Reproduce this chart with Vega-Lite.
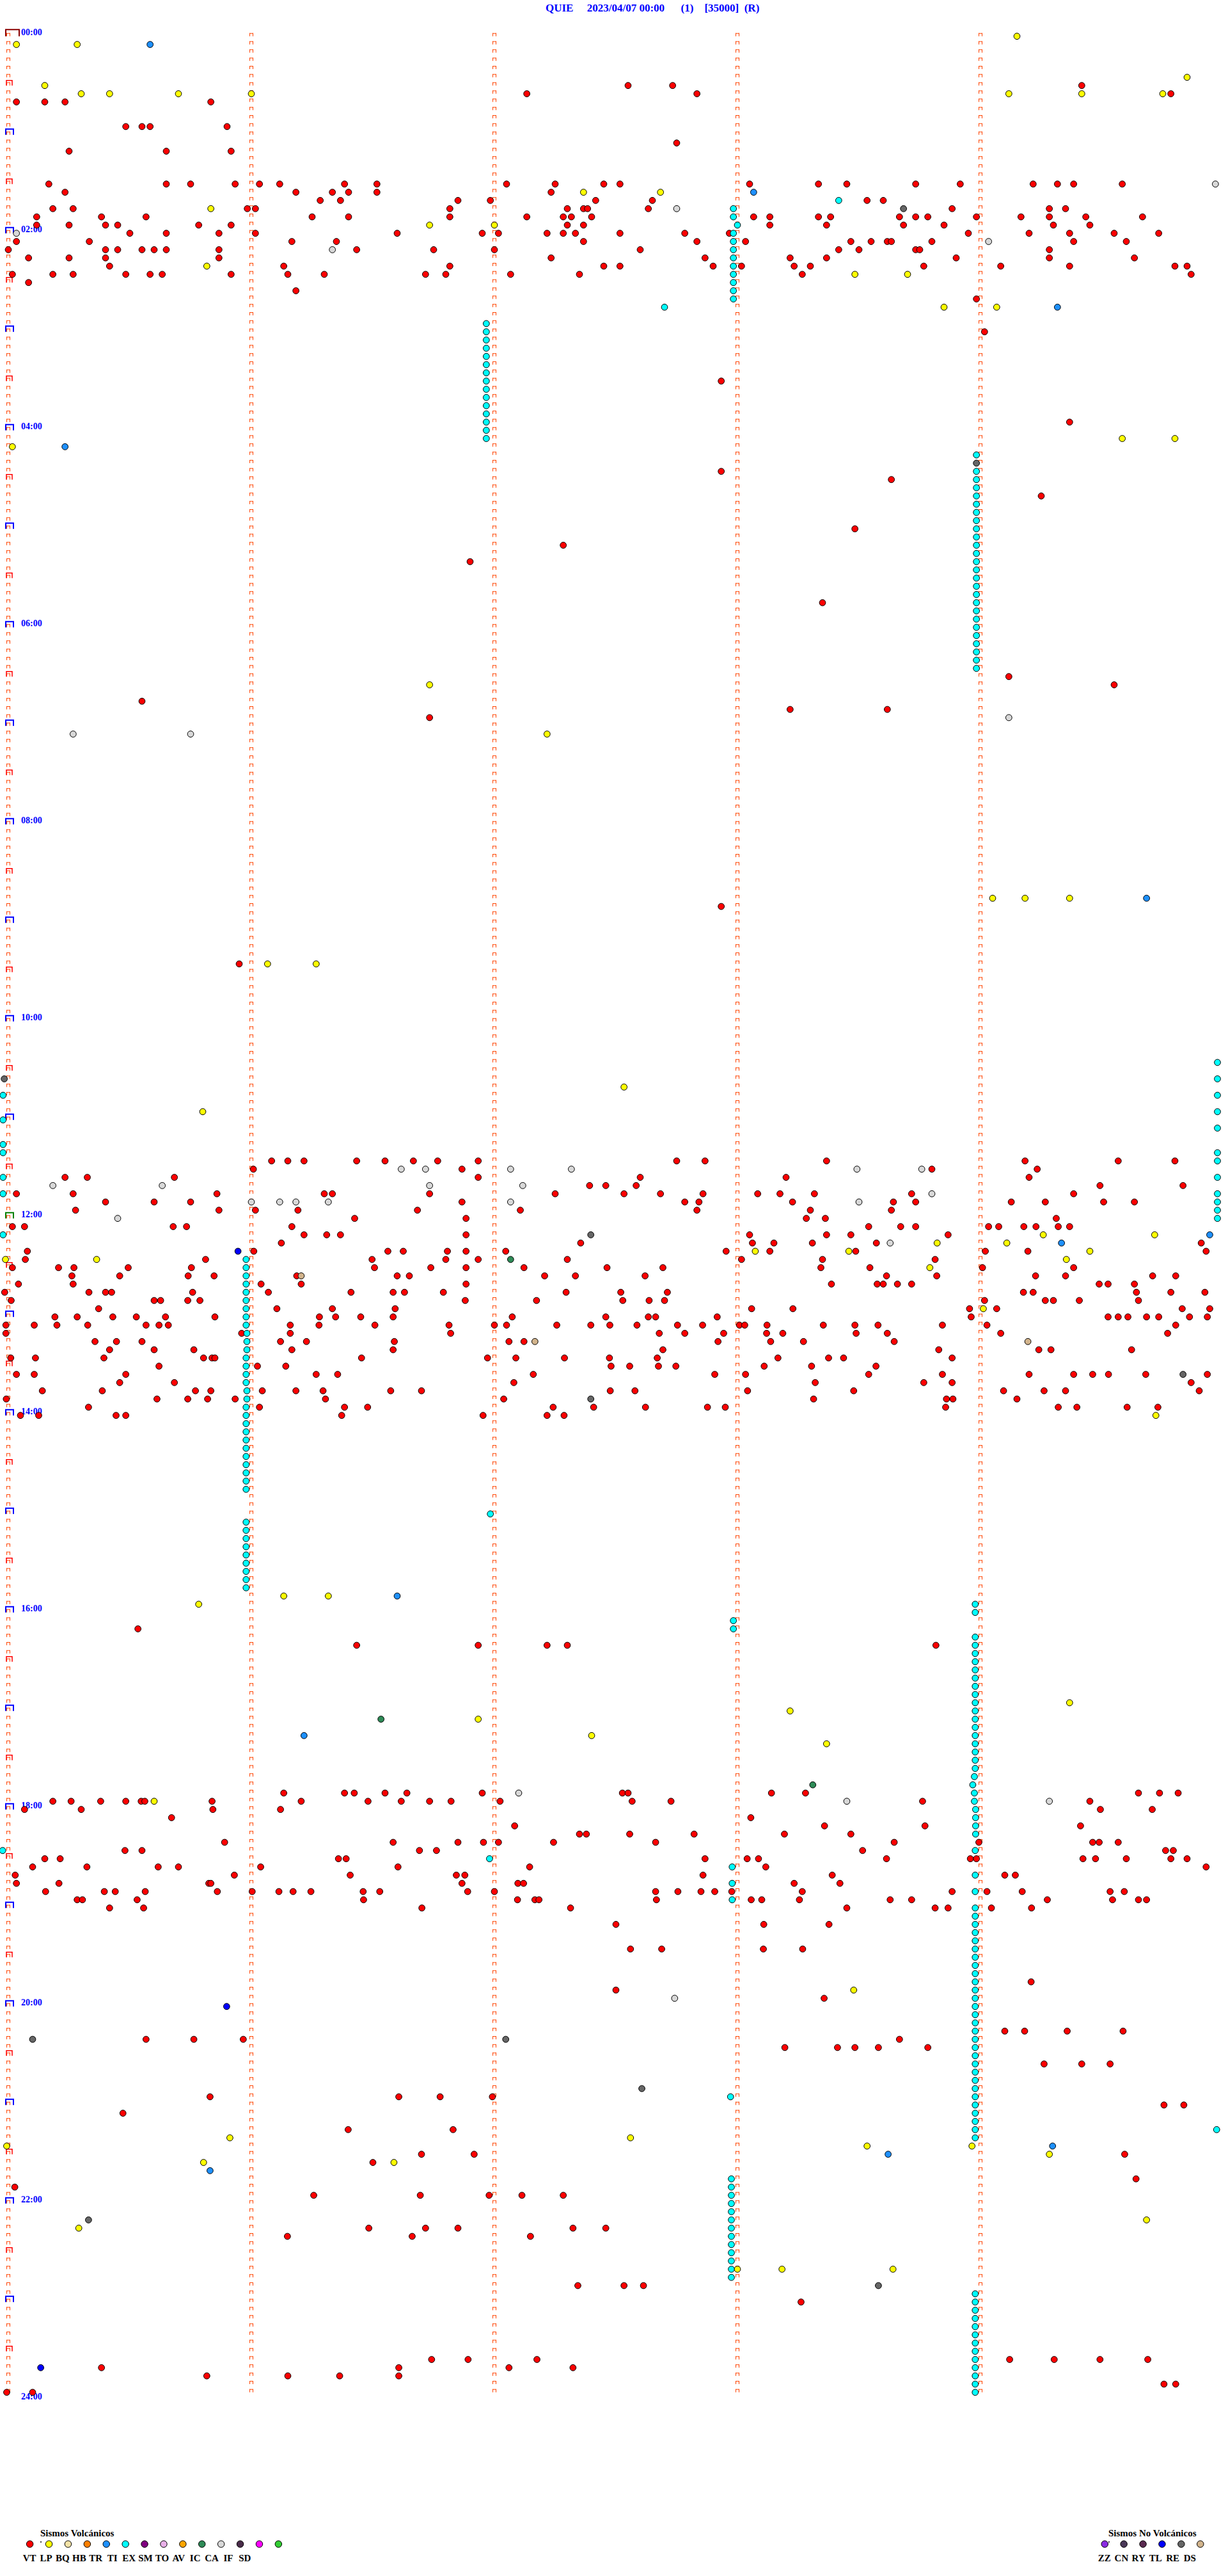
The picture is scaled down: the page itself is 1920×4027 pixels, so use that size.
{
"$schema": "https://vega.github.io/schema/vega-lite/v6.json",
"width": 1900, "height": 3696, "autosize": "none",
"padding": {"left": 13, "top": 56.7, "right": 7, "bottom": 274.3},
"background": "white",
"title": {"text": "QUIE\u00a0\u00a0\u00a0\u00a0\u00a02023/04/07 00:00\u00a0\u00a0\u00a0\u00a0\u00a0\u00a0(1)\u00a0\u00a0\u00a0\u00a0[35000]\u00a0\u00a0(R)", "anchor": "start", "frame": "group", "dx": 840, "offset": 20, "font": "Liberation Serif", "fontSize": 17, "fontWeight": "bold", "color": "#0000FF"},
"config": {"view": {"stroke": null}},
"datasets": {
"cols": [{"s":0},{"s":60},{"s":120},{"s":180},{"s":240}],
"day": [{"r":0}],
"noon": [{"r":144}],
"hour": [{"r":12},{"r":24},{"r":36},{"r":48},{"r":60},{"r":72},{"r":84},{"r":96},{"r":108},{"r":120},{"r":132},{"r":156},{"r":168},{"r":180},{"r":192},{"r":204},{"r":216},{"r":228},{"r":240},{"r":252},{"r":264},{"r":276}],
"half": [{"r":6},{"r":18},{"r":30},{"r":42},{"r":54},{"r":66},{"r":78},{"r":90},{"r":102},{"r":114},{"r":126},{"r":138},{"r":150},{"r":162},{"r":174},{"r":186},{"r":198},{"r":210},{"r":222},{"r":234},{"r":246},{"r":258},{"r":270},{"r":282}],
"hl": [{"r":0,"lab":"00:00"},{"r":24,"lab":"02:00"},{"r":48,"lab":"04:00"},{"r":72,"lab":"06:00"},{"r":96,"lab":"08:00"},{"r":120,"lab":"10:00"},{"r":144,"lab":"12:00"},{"r":168,"lab":"14:00"},{"r":192,"lab":"16:00"},{"r":216,"lab":"18:00"},{"r":240,"lab":"20:00"},{"r":264,"lab":"22:00"},{"r":288,"lab":"24:00"}],
"nov": [{"r":21,"s":221,"t":"RE"},{"r":52,"s":239,"t":"RE"},{"r":127,"s":-1,"t":"RE"},{"r":146,"s":143.8,"t":"RE"},{"r":163,"s":290,"t":"RE"},{"r":166,"s":143.8,"t":"RE"},{"r":148,"s":56.7,"t":"TL"},{"r":151,"s":72.3,"t":"DS"},{"r":159,"s":130,"t":"DS"},{"r":159,"s":251.7,"t":"DS"},{"r":244,"s":6,"t":"RE"},{"r":244,"s":122.8,"t":"RE"},{"r":250,"s":156.4,"t":"RE"},{"r":266,"s":19.8,"t":"RE"},{"r":274,"s":214.8,"t":"RE"},{"r":240,"s":53.9,"t":"TL"},{"r":284,"s":8,"t":"TL"}],
"vol": [
{"r":0,"s":249,"t":"LP"},{"r":1,"s":2,"t":"LP"},{"r":1,"s":17,"t":"LP"},{"r":1,"s":35,"t":"TR"},{"r":5,"s":291,"t":"LP"},
{"r":6,"s":9,"t":"LP"},{"r":6,"s":153,"t":"VT"},{"r":6,"s":164,"t":"VT"},{"r":6,"s":265,"t":"VT"},
{"r":7,"s":18,"t":"LP"},{"r":7,"s":25,"t":"LP"},{"r":7,"s":42,"t":"LP"},{"r":7,"s":60,"t":"LP"},{"r":7,"s":128,"t":"VT"},{"r":7,"s":170,"t":"VT"},{"r":7,"s":247,"t":"LP"},{"r":7,"s":265,"t":"LP"},{"r":7,"s":285,"t":"LP"},{"r":7,"s":287,"t":"VT"},
{"r":8,"s":2,"t":"VT"},{"r":8,"s":9,"t":"VT"},{"r":8,"s":14,"t":"VT"},{"r":8,"s":50,"t":"VT"},
{"r":11,"s":29,"t":"VT"},{"r":11,"s":33,"t":"VT"},{"r":11,"s":35,"t":"VT"},{"r":11,"s":54,"t":"VT"},
{"r":13,"s":165,"t":"VT"},{"r":14,"s":15,"t":"VT"},{"r":14,"s":39,"t":"VT"},{"r":14,"s":55,"t":"VT"},
{"r":18,"s":10,"t":"VT"},{"r":18,"s":39,"t":"VT"},{"r":18,"s":45,"t":"VT"},{"r":18,"s":56,"t":"VT"},{"r":18,"s":62,"t":"VT"},{"r":18,"s":67,"t":"VT"},{"r":18,"s":83,"t":"VT"},{"r":18,"s":91,"t":"VT"},{"r":18,"s":123,"t":"VT"},{"r":18,"s":135,"t":"VT"},{"r":18,"s":147,"t":"VT"},{"r":18,"s":151,"t":"VT"},{"r":18,"s":183,"t":"VT"},{"r":18,"s":200,"t":"VT"},{"r":18,"s":207,"t":"VT"},{"r":18,"s":224,"t":"VT"},{"r":18,"s":235,"t":"VT"},{"r":18,"s":253,"t":"VT"},{"r":18,"s":259,"t":"VT"},{"r":18,"s":263,"t":"VT"},{"r":18,"s":275,"t":"VT"},{"r":18,"s":298,"t":"IC"},
{"r":19,"s":14,"t":"VT"},{"r":19,"s":71,"t":"VT"},{"r":19,"s":80,"t":"VT"},{"r":19,"s":84,"t":"VT"},{"r":19,"s":91,"t":"VT"},{"r":19,"s":134,"t":"VT"},{"r":19,"s":142,"t":"LP"},{"r":19,"s":161,"t":"LP"},{"r":19,"s":184,"t":"TR"},
{"r":20,"s":77,"t":"VT"},{"r":20,"s":82,"t":"VT"},{"r":20,"s":111,"t":"VT"},{"r":20,"s":119,"t":"VT"},{"r":20,"s":145,"t":"VT"},{"r":20,"s":159,"t":"VT"},{"r":20,"s":212,"t":"VT"},{"r":20,"s":216,"t":"VT"},{"r":20,"s":205,"t":"TI"},
{"r":21,"s":11,"t":"VT"},{"r":21,"s":16,"t":"VT"},{"r":21,"s":59,"t":"VT"},{"r":21,"s":61,"t":"VT"},{"r":21,"s":109,"t":"VT"},{"r":21,"s":138,"t":"VT"},{"r":21,"s":142,"t":"VT"},{"r":21,"s":143,"t":"VT"},{"r":21,"s":158,"t":"VT"},{"r":21,"s":233,"t":"VT"},{"r":21,"s":257,"t":"VT"},{"r":21,"s":261,"t":"VT"},{"r":21,"s":50,"t":"LP"},{"r":21,"s":165,"t":"IC"},
{"r":22,"s":7,"t":"VT"},{"r":22,"s":23,"t":"VT"},{"r":22,"s":34,"t":"VT"},{"r":22,"s":75,"t":"VT"},{"r":22,"s":84,"t":"VT"},{"r":22,"s":109,"t":"VT"},{"r":22,"s":128,"t":"VT"},{"r":22,"s":137,"t":"VT"},{"r":22,"s":139,"t":"VT"},{"r":22,"s":144,"t":"VT"},{"r":22,"s":184,"t":"VT"},{"r":22,"s":188,"t":"VT"},{"r":22,"s":200,"t":"VT"},{"r":22,"s":203,"t":"VT"},{"r":22,"s":220,"t":"VT"},{"r":22,"s":224,"t":"VT"},{"r":22,"s":227,"t":"VT"},{"r":22,"s":239,"t":"VT"},{"r":22,"s":250,"t":"VT"},{"r":22,"s":257,"t":"VT"},{"r":22,"s":266,"t":"VT"},{"r":22,"s":280,"t":"VT"},
{"r":23,"s":7,"t":"VT"},{"r":23,"s":15,"t":"VT"},{"r":23,"s":24,"t":"VT"},{"r":23,"s":27,"t":"VT"},{"r":23,"s":47,"t":"VT"},{"r":23,"s":55,"t":"VT"},{"r":23,"s":138,"t":"VT"},{"r":23,"s":142,"t":"VT"},{"r":23,"s":188,"t":"VT"},{"r":23,"s":202,"t":"VT"},{"r":23,"s":221,"t":"VT"},{"r":23,"s":231,"t":"VT"},{"r":23,"s":258,"t":"VT"},{"r":23,"s":267,"t":"VT"},{"r":23,"s":104,"t":"LP"},{"r":23,"s":120,"t":"LP"},
{"r":24,"s":2,"t":"IC"},{"r":24,"s":30,"t":"VT"},{"r":24,"s":39,"t":"VT"},{"r":24,"s":52,"t":"VT"},{"r":24,"s":61,"t":"VT"},{"r":24,"s":96,"t":"VT"},{"r":24,"s":117,"t":"VT"},{"r":24,"s":121,"t":"VT"},{"r":24,"s":133,"t":"VT"},{"r":24,"s":137,"t":"VT"},{"r":24,"s":140,"t":"VT"},{"r":24,"s":151,"t":"VT"},{"r":24,"s":167,"t":"VT"},{"r":24,"s":178,"t":"VT"},{"r":24,"s":237,"t":"VT"},{"r":24,"s":252,"t":"VT"},{"r":24,"s":262,"t":"VT"},{"r":24,"s":273,"t":"VT"},{"r":24,"s":284,"t":"VT"},
{"r":25,"s":2,"t":"VT"},{"r":25,"s":20,"t":"VT"},{"r":25,"s":70,"t":"VT"},{"r":25,"s":81,"t":"VT"},{"r":25,"s":142,"t":"VT"},{"r":25,"s":170,"t":"VT"},{"r":25,"s":182,"t":"VT"},{"r":25,"s":208,"t":"VT"},{"r":25,"s":213,"t":"VT"},{"r":25,"s":217,"t":"VT"},{"r":25,"s":218,"t":"VT"},{"r":25,"s":228,"t":"VT"},{"r":25,"s":263,"t":"VT"},{"r":25,"s":276,"t":"VT"},{"r":25,"s":242,"t":"IC"},
{"r":26,"s":0,"t":"VT"},{"r":26,"s":24,"t":"VT"},{"r":26,"s":27,"t":"VT"},{"r":26,"s":33,"t":"VT"},{"r":26,"s":36,"t":"VT"},{"r":26,"s":39,"t":"VT"},{"r":26,"s":52,"t":"VT"},{"r":26,"s":86,"t":"VT"},{"r":26,"s":105,"t":"VT"},{"r":26,"s":120,"t":"VT"},{"r":26,"s":156,"t":"VT"},{"r":26,"s":205,"t":"VT"},{"r":26,"s":210,"t":"VT"},{"r":26,"s":224,"t":"VT"},{"r":26,"s":225,"t":"VT"},{"r":26,"s":257,"t":"VT"},{"r":26,"s":80,"t":"IC"},
{"r":27,"s":5,"t":"VT"},{"r":27,"s":15,"t":"VT"},{"r":27,"s":24,"t":"VT"},{"r":27,"s":52,"t":"VT"},{"r":27,"s":134,"t":"VT"},{"r":27,"s":172,"t":"VT"},{"r":27,"s":193,"t":"VT"},{"r":27,"s":202,"t":"VT"},{"r":27,"s":234,"t":"VT"},{"r":27,"s":257,"t":"VT"},{"r":27,"s":278,"t":"VT"},
{"r":28,"s":25,"t":"VT"},{"r":28,"s":68,"t":"VT"},{"r":28,"s":109,"t":"VT"},{"r":28,"s":147,"t":"VT"},{"r":28,"s":151,"t":"VT"},{"r":28,"s":174,"t":"VT"},{"r":28,"s":181,"t":"VT"},{"r":28,"s":194,"t":"VT"},{"r":28,"s":198,"t":"VT"},{"r":28,"s":226,"t":"VT"},{"r":28,"s":245,"t":"VT"},{"r":28,"s":262,"t":"VT"},{"r":28,"s":288,"t":"VT"},{"r":28,"s":291,"t":"VT"},{"r":28,"s":49,"t":"LP"},
{"r":29,"s":1,"t":"VT"},{"r":29,"s":11,"t":"VT"},{"r":29,"s":16,"t":"VT"},{"r":29,"s":29,"t":"VT"},{"r":29,"s":35,"t":"VT"},{"r":29,"s":38,"t":"VT"},{"r":29,"s":55,"t":"VT"},{"r":29,"s":69,"t":"VT"},{"r":29,"s":78,"t":"VT"},{"r":29,"s":103,"t":"VT"},{"r":29,"s":108,"t":"VT"},{"r":29,"s":124,"t":"VT"},{"r":29,"s":141,"t":"VT"},{"r":29,"s":196,"t":"VT"},{"r":29,"s":292,"t":"VT"},{"r":29,"s":209,"t":"LP"},{"r":29,"s":222,"t":"LP"},
{"r":30,"s":5,"t":"VT"},{"r":31,"s":71,"t":"VT"},{"r":32,"s":239,"t":"VT"},
{"r":21,"s":179,"t":"TI"},{"r":22,"s":179,"t":"TI"},{"r":23,"s":180,"t":"TI"},{"r":24,"s":179,"t":"TI"},{"r":25,"s":179,"t":"TI"},{"r":26,"s":179,"t":"TI"},{"r":27,"s":179,"t":"TI"},{"r":28,"s":179,"t":"TI"},{"r":29,"s":179,"t":"TI"},{"r":30,"s":179,"t":"TI"},{"r":31,"s":179,"t":"TI"},{"r":32,"s":179,"t":"TI"},
{"r":33,"s":162,"t":"TI"},{"r":33,"s":231,"t":"LP"},{"r":33,"s":244,"t":"LP"},{"r":33,"s":259,"t":"TR"},
{"r":35,"s":118,"t":"TI"},{"r":36,"s":118,"t":"TI"},{"r":37,"s":118,"t":"TI"},{"r":38,"s":118,"t":"TI"},{"r":39,"s":118,"t":"TI"},{"r":40,"s":118,"t":"TI"},{"r":41,"s":118,"t":"TI"},{"r":42,"s":118,"t":"TI"},{"r":43,"s":118,"t":"TI"},{"r":44,"s":118,"t":"TI"},{"r":45,"s":118,"t":"TI"},{"r":46,"s":118,"t":"TI"},{"r":47,"s":118,"t":"TI"},{"r":48,"s":118,"t":"TI"},{"r":49,"s":118,"t":"TI"},
{"r":36,"s":241,"t":"VT"},{"r":42,"s":176,"t":"VT"},{"r":47,"s":262,"t":"VT"},{"r":49,"s":275,"t":"LP"},{"r":49,"s":288,"t":"LP"},{"r":50,"s":1,"t":"LP"},{"r":50,"s":14,"t":"TR"},
{"r":51,"s":239,"t":"TI"},{"r":53,"s":239,"t":"TI"},{"r":54,"s":239,"t":"TI"},{"r":55,"s":239,"t":"TI"},{"r":56,"s":239,"t":"TI"},{"r":57,"s":239,"t":"TI"},{"r":58,"s":239,"t":"TI"},{"r":59,"s":239,"t":"TI"},{"r":60,"s":239,"t":"TI"},{"r":61,"s":239,"t":"TI"},{"r":62,"s":239,"t":"TI"},{"r":63,"s":239,"t":"TI"},{"r":64,"s":239,"t":"TI"},{"r":65,"s":239,"t":"TI"},{"r":66,"s":239,"t":"TI"},{"r":67,"s":239,"t":"TI"},{"r":68,"s":239,"t":"TI"},{"r":69,"s":239,"t":"TI"},{"r":70,"s":239,"t":"TI"},{"r":71,"s":239,"t":"TI"},{"r":72,"s":239,"t":"TI"},{"r":73,"s":239,"t":"TI"},{"r":74,"s":239,"t":"TI"},{"r":75,"s":239,"t":"TI"},{"r":76,"s":239,"t":"TI"},{"r":77,"s":239,"t":"TI"},
{"r":53,"s":176,"t":"VT"},{"r":54,"s":218,"t":"VT"},{"r":56,"s":255,"t":"VT"},{"r":60,"s":209,"t":"VT"},{"r":62,"s":137,"t":"VT"},{"r":64,"s":114,"t":"VT"},{"r":69,"s":201,"t":"VT"},
{"r":78,"s":247,"t":"VT"},{"r":79,"s":273,"t":"VT"},{"r":79,"s":104,"t":"LP"},{"r":81,"s":33,"t":"VT"},{"r":82,"s":193,"t":"VT"},{"r":82,"s":217,"t":"VT"},{"r":83,"s":104,"t":"VT"},{"r":83,"s":247,"t":"IC"},{"r":85,"s":16,"t":"IC"},{"r":85,"s":45,"t":"IC"},{"r":85,"s":133,"t":"LP"},
{"r":105,"s":243,"t":"LP"},{"r":105,"s":251,"t":"LP"},{"r":105,"s":262,"t":"LP"},{"r":105,"s":281,"t":"TR"},{"r":106,"s":176,"t":"VT"},
{"r":113,"s":57,"t":"VT"},{"r":113,"s":64,"t":"LP"},{"r":113,"s":76,"t":"LP"},
{"r":125,"s":298.5,"t":"TI"},{"r":127,"s":298.5,"t":"TI"},{"r":129,"s":298.5,"t":"TI"},{"r":131,"s":298.5,"t":"TI"},{"r":133,"s":298.5,"t":"TI"},{"r":136,"s":298.5,"t":"TI"},{"r":137,"s":298.5,"t":"TI"},{"r":139,"s":298.5,"t":"TI"},{"r":141,"s":298.5,"t":"TI"},{"r":142,"s":298.5,"t":"TI"},{"r":143,"s":298.5,"t":"TI"},{"r":144,"s":298.5,"t":"TI"},
{"r":129,"s":-1.3,"t":"TI"},{"r":132,"s":-1.3,"t":"TI"},{"r":135,"s":-1.3,"t":"TI"},{"r":136,"s":-1.3,"t":"TI"},{"r":139,"s":-1.3,"t":"TI"},{"r":141,"s":-1.3,"t":"TI"},{"r":146,"s":-1.3,"t":"TI"},
{"r":128,"s":152,"t":"LP"},{"r":131,"s":48,"t":"LP"},{"r":146,"s":296.6,"t":"TR"},
{"r":137,"s":65,"t":"VT"},{"r":137,"s":69,"t":"VT"},{"r":137,"s":73,"t":"VT"},{"r":137,"s":86,"t":"VT"},{"r":137,"s":93,"t":"VT"},{"r":137,"s":100,"t":"VT"},{"r":137,"s":106,"t":"VT"},{"r":137,"s":116,"t":"VT"},{"r":137,"s":165,"t":"VT"},{"r":137,"s":172,"t":"VT"},{"r":137,"s":202,"t":"VT"},{"r":137,"s":251,"t":"VT"},{"r":137,"s":274,"t":"VT"},{"r":137,"s":288,"t":"VT"},
{"r":138,"s":60.5,"t":"VT"},{"r":138,"s":97,"t":"IC"},{"r":138,"s":103,"t":"IC"},{"r":138,"s":112,"t":"VT"},{"r":138,"s":124,"t":"IC"},{"r":138,"s":139,"t":"IC"},{"r":138,"s":209.5,"t":"IC"},{"r":138,"s":225.5,"t":"IC"},{"r":138,"s":228,"t":"VT"},{"r":138,"s":254,"t":"VT"},
{"r":139,"s":14,"t":"VT"},{"r":139,"s":19.5,"t":"VT"},{"r":139,"s":41,"t":"VT"},{"r":139,"s":116,"t":"VT"},{"r":139,"s":156,"t":"VT"},{"r":139,"s":192,"t":"VT"},{"r":139,"s":252,"t":"VT"},
{"r":140,"s":11,"t":"IC"},{"r":140,"s":38,"t":"IC"},{"r":140,"s":104,"t":"IC"},{"r":140,"s":127,"t":"IC"},{"r":140,"s":143.5,"t":"VT"},{"r":140,"s":147.5,"t":"VT"},{"r":140,"s":155,"t":"VT"},{"r":140,"s":269.5,"t":"VT"},{"r":140,"s":290,"t":"VT"},
{"r":141,"s":2,"t":"VT"},{"r":141,"s":16,"t":"VT"},{"r":141,"s":51.5,"t":"VT"},{"r":141,"s":78,"t":"VT"},{"r":141,"s":80,"t":"VT"},{"r":141,"s":104,"t":"VT"},{"r":141,"s":135,"t":"VT"},{"r":141,"s":152,"t":"VT"},{"r":141,"s":161,"t":"VT"},{"r":141,"s":171.5,"t":"VT"},{"r":141,"s":185,"t":"VT"},{"r":141,"s":190.5,"t":"VT"},{"r":141,"s":199,"t":"VT"},{"r":141,"s":223,"t":"VT"},{"r":141,"s":228,"t":"IC"},{"r":141,"s":263,"t":"VT"},
{"r":142,"s":24,"t":"VT"},{"r":142,"s":36,"t":"VT"},{"r":142,"s":45,"t":"VT"},{"r":142,"s":60,"t":"IC"},{"r":142,"s":67,"t":"IC"},{"r":142,"s":71,"t":"IC"},{"r":142,"s":79,"t":"IC"},{"r":142,"s":112,"t":"VT"},{"r":142,"s":124,"t":"IC"},{"r":142,"s":167,"t":"VT"},{"r":142,"s":170.5,"t":"VT"},{"r":142,"s":193.6,"t":"VT"},{"r":142,"s":210,"t":"IC"},{"r":142,"s":218.5,"t":"VT"},{"r":142,"s":224,"t":"VT"},{"r":142,"s":247.6,"t":"VT"},{"r":142,"s":256,"t":"VT"},{"r":142,"s":270.4,"t":"VT"},{"r":142,"s":278,"t":"VT"},
{"r":143,"s":16.6,"t":"VT"},{"r":143,"s":52,"t":"VT"},{"r":143,"s":61,"t":"VT"},{"r":143,"s":71.5,"t":"VT"},{"r":143,"s":101,"t":"VT"},{"r":143,"s":126.4,"t":"VT"},{"r":143,"s":170,"t":"VT"},{"r":143,"s":198,"t":"VT"},{"r":143,"s":218,"t":"VT"},
{"r":144,"s":27,"t":"IC"},{"r":144,"s":85.5,"t":"VT"},{"r":144,"s":113,"t":"VT"},{"r":144,"s":197,"t":"VT"},{"r":144,"s":201.7,"t":"VT"},{"r":144,"s":258.7,"t":"VT"},
{"r":145,"s":1,"t":"VT"},{"r":145,"s":4,"t":"VT"},{"r":145,"s":40.7,"t":"VT"},{"r":145,"s":44,"t":"VT"},{"r":145,"s":70,"t":"VT"},{"r":145,"s":212.4,"t":"VT"},{"r":145,"s":220.3,"t":"VT"},{"r":145,"s":224,"t":"VT"},{"r":145,"s":242,"t":"VT"},{"r":145,"s":244.5,"t":"VT"},{"r":145,"s":250.7,"t":"VT"},{"r":145,"s":253.7,"t":"VT"},{"r":145,"s":259.2,"t":"VT"},{"r":145,"s":262,"t":"VT"},
{"r":146,"s":73,"t":"VT"},{"r":146,"s":78.6,"t":"VT"},{"r":146,"s":82,"t":"VT"},{"r":146,"s":113,"t":"VT"},{"r":146,"s":183,"t":"VT"},{"r":146,"s":202,"t":"VT"},{"r":146,"s":208,"t":"VT"},{"r":146,"s":232,"t":"VT"},{"r":146,"s":255.5,"t":"LP"},{"r":146,"s":283,"t":"LP"},
{"r":147,"s":67.4,"t":"VT"},{"r":147,"s":141.3,"t":"VT"},{"r":147,"s":183.7,"t":"VT"},{"r":147,"s":189,"t":"VT"},{"r":147,"s":198.5,"t":"VT"},{"r":147,"s":214.3,"t":"VT"},{"r":147,"s":217.7,"t":"IC"},{"r":147,"s":229.3,"t":"LP"},{"r":147,"s":246.5,"t":"LP"},{"r":147,"s":260,"t":"TR"},{"r":147,"s":294.5,"t":"VT"},
{"r":148,"s":4.7,"t":"VT"},{"r":148,"s":60.6,"t":"VT"},{"r":148,"s":93.7,"t":"VT"},{"r":148,"s":97.5,"t":"VT"},{"r":148,"s":108.4,"t":"VT"},{"r":148,"s":113,"t":"VT"},{"r":148,"s":122.8,"t":"VT"},{"r":148,"s":177.2,"t":"VT"},{"r":148,"s":184.4,"t":"LP"},{"r":148,"s":188,"t":"VT"},{"r":148,"s":207.5,"t":"LP"},{"r":148,"s":209.2,"t":"VT"},{"r":148,"s":241.2,"t":"VT"},{"r":148,"s":251.7,"t":"VT"},{"r":148,"s":267,"t":"LP"},{"r":148,"s":295.7,"t":"VT"},
{"r":149,"s":-0.7,"t":"LP"},{"r":149,"s":21.8,"t":"LP"},{"r":149,"s":4.2,"t":"VT"},{"r":149,"s":48.7,"t":"VT"},{"r":149,"s":89.8,"t":"VT"},{"r":149,"s":108,"t":"VT"},{"r":149,"s":116,"t":"VT"},{"r":149,"s":124,"t":"AV"},{"r":149,"s":138,"t":"VT"},{"r":149,"s":181,"t":"VT"},{"r":149,"s":201,"t":"VT"},{"r":149,"s":228.8,"t":"VT"},{"r":149,"s":261.2,"t":"LP"},
{"r":150,"s":1,"t":"VT"},{"r":150,"s":12.4,"t":"VT"},{"r":150,"s":16.2,"t":"VT"},{"r":150,"s":29.6,"t":"VT"},{"r":150,"s":45.2,"t":"VT"},{"r":150,"s":90.4,"t":"VT"},{"r":150,"s":104.3,"t":"VT"},{"r":150,"s":113,"t":"VT"},{"r":150,"s":127.3,"t":"VT"},{"r":150,"s":147.8,"t":"VT"},{"r":150,"s":161.6,"t":"VT"},{"r":150,"s":200.6,"t":"VT"},{"r":150,"s":212.7,"t":"VT"},{"r":150,"s":227.5,"t":"LP"},{"r":150,"s":240.5,"t":"VT"},{"r":150,"s":263,"t":"VT"},
{"r":151,"s":15.7,"t":"VT"},{"r":151,"s":27.5,"t":"VT"},{"r":151,"s":44.4,"t":"VT"},{"r":151,"s":50.8,"t":"VT"},{"r":151,"s":71.2,"t":"VT"},{"r":151,"s":96,"t":"VT"},{"r":151,"s":99,"t":"VT"},{"r":151,"s":132.4,"t":"VT"},{"r":151,"s":140,"t":"VT"},{"r":151,"s":157.2,"t":"VT"},{"r":151,"s":216.8,"t":"VT"},{"r":151,"s":229.2,"t":"VT"},{"r":151,"s":253.6,"t":"VT"},{"r":151,"s":261,"t":"VT"},{"r":151,"s":282.5,"t":"VT"},{"r":151,"s":288.2,"t":"VT"},
{"r":152,"s":2.5,"t":"VT"},{"r":152,"s":16,"t":"VT"},{"r":152,"s":62.4,"t":"VT"},{"r":152,"s":72.3,"t":"VT"},{"r":152,"s":113,"t":"VT"},{"r":152,"s":203.2,"t":"VT"},{"r":152,"s":214.5,"t":"VT"},{"r":152,"s":216,"t":"VT"},{"r":152,"s":219.5,"t":"VT"},{"r":152,"s":223,"t":"VT"},{"r":152,"s":269.3,"t":"VT"},{"r":152,"s":271.5,"t":"VT"},{"r":152,"s":278,"t":"VT"},
{"r":153,"s":-0.9,"t":"VT"},{"r":153,"s":19.9,"t":"VT"},{"r":153,"s":24,"t":"VT"},{"r":153,"s":25.5,"t":"VT"},{"r":153,"s":45.5,"t":"VT"},{"r":153,"s":64.2,"t":"VT"},{"r":153,"s":84.6,"t":"VT"},{"r":153,"s":95,"t":"VT"},{"r":153,"s":97.8,"t":"VT"},{"r":153,"s":107.4,"t":"VT"},{"r":153,"s":137.7,"t":"VT"},{"r":153,"s":151.2,"t":"VT"},{"r":153,"s":162.7,"t":"VT"},{"r":153,"s":250.6,"t":"VT"},{"r":153,"s":253,"t":"VT"},{"r":153,"s":278.5,"t":"VT"},{"r":153,"s":287,"t":"VT"},{"r":153,"s":295.4,"t":"VT"},
{"r":154,"s":0.7,"t":"VT"},{"r":154,"s":36,"t":"VT"},{"r":154,"s":37.6,"t":"VT"},{"r":154,"s":44.3,"t":"VT"},{"r":154,"s":47.3,"t":"VT"},{"r":154,"s":112.8,"t":"VT"},{"r":154,"s":130.4,"t":"VT"},{"r":154,"s":151.7,"t":"VT"},{"r":154,"s":158.2,"t":"VT"},{"r":154,"s":162,"t":"VT"},{"r":154,"s":241,"t":"VT"},{"r":154,"s":256,"t":"VT"},{"r":154,"s":258,"t":"VT"},{"r":154,"s":264.4,"t":"VT"},{"r":154,"s":279,"t":"VT"},
{"r":155,"s":22.3,"t":"VT"},{"r":155,"s":66.3,"t":"VT"},{"r":155,"s":80,"t":"VT"},{"r":155,"s":95.5,"t":"VT"},{"r":155,"s":183.5,"t":"VT"},{"r":155,"s":193.7,"t":"VT"},{"r":155,"s":237.3,"t":"VT"},{"r":155,"s":240.7,"t":"LP"},{"r":155,"s":244,"t":"VT"},{"r":155,"s":289.8,"t":"VT"},{"r":155,"s":296.6,"t":"VT"},
{"r":156,"s":11.5,"t":"VT"},{"r":156,"s":17,"t":"VT"},{"r":156,"s":25.8,"t":"VT"},{"r":156,"s":31.6,"t":"VT"},{"r":156,"s":38.8,"t":"VT"},{"r":156,"s":51,"t":"VT"},{"r":156,"s":76.8,"t":"VT"},{"r":156,"s":80.8,"t":"VT"},{"r":156,"s":87,"t":"VT"},{"r":156,"s":95,"t":"VT"},{"r":156,"s":124.4,"t":"VT"},{"r":156,"s":147.5,"t":"VT"},{"r":156,"s":158,"t":"VT"},{"r":156,"s":159.8,"t":"VT"},{"r":156,"s":175,"t":"VT"},{"r":156,"s":237.7,"t":"VT"},{"r":156,"s":271.5,"t":"VT"},{"r":156,"s":274,"t":"VT"},{"r":156,"s":276.4,"t":"VT"},{"r":156,"s":281,"t":"VT"},{"r":156,"s":284,"t":"VT"},{"r":156,"s":291.6,"t":"VT"},{"r":156,"s":296,"t":"VT"},
{"r":157,"s":-0.6,"t":"VT"},{"r":157,"s":6.4,"t":"VT"},{"r":157,"s":12,"t":"VT"},{"r":157,"s":19.6,"t":"VT"},{"r":157,"s":34,"t":"VT"},{"r":157,"s":37.2,"t":"VT"},{"r":157,"s":39.5,"t":"VT"},{"r":157,"s":69.6,"t":"VT"},{"r":157,"s":76.7,"t":"VT"},{"r":157,"s":90.5,"t":"VT"},{"r":157,"s":108.8,"t":"VT"},{"r":157,"s":120,"t":"VT"},{"r":157,"s":123,"t":"VT"},{"r":157,"s":135.4,"t":"VT"},{"r":157,"s":143.8,"t":"VT"},{"r":157,"s":148.5,"t":"VT"},{"r":157,"s":155.2,"t":"VT"},{"r":157,"s":165.2,"t":"VT"},{"r":157,"s":171.4,"t":"VT"},{"r":157,"s":180.5,"t":"VT"},{"r":157,"s":181.8,"t":"VT"},{"r":157,"s":187.3,"t":"VT"},{"r":157,"s":201.2,"t":"VT"},{"r":157,"s":209,"t":"VT"},{"r":157,"s":214.7,"t":"VT"},{"r":157,"s":230.6,"t":"VT"},{"r":157,"s":241.6,"t":"VT"},{"r":157,"s":288.2,"t":"VT"},
{"r":158,"s":-0.6,"t":"VT"},{"r":158,"s":57.6,"t":"VT"},{"r":158,"s":69.6,"t":"VT"},{"r":158,"s":109.2,"t":"VT"},{"r":158,"s":160.7,"t":"VT"},{"r":158,"s":167,"t":"VT"},{"r":158,"s":176.6,"t":"VT"},{"r":158,"s":187.2,"t":"VT"},{"r":158,"s":191.2,"t":"VT"},{"r":158,"s":209.3,"t":"VT"},{"r":158,"s":217,"t":"VT"},{"r":158,"s":245,"t":"VT"},{"r":158,"s":286.2,"t":"VT"},
{"r":159,"s":21.4,"t":"VT"},{"r":159,"s":26.7,"t":"VT"},{"r":159,"s":33,"t":"VT"},{"r":159,"s":67.2,"t":"VT"},{"r":159,"s":73.6,"t":"VT"},{"r":159,"s":95.3,"t":"VT"},{"r":159,"s":123.6,"t":"VT"},{"r":159,"s":127.3,"t":"VT"},{"r":159,"s":175.2,"t":"VT"},{"r":159,"s":188.2,"t":"VT"},{"r":159,"s":196.3,"t":"VT"},{"r":159,"s":218.7,"t":"VT"},
{"r":160,"s":25,"t":"VT"},{"r":160,"s":36,"t":"VT"},{"r":160,"s":45.8,"t":"VT"},{"r":160,"s":70,"t":"VT"},{"r":160,"s":95,"t":"VT"},{"r":160,"s":161.6,"t":"VT"},{"r":160,"s":229.7,"t":"VT"},{"r":160,"s":254.4,"t":"VT"},{"r":160,"s":257.4,"t":"VT"},{"r":160,"s":277.3,"t":"VT"},
{"r":161,"s":0.6,"t":"VT"},{"r":161,"s":6.7,"t":"VT"},{"r":161,"s":23.6,"t":"VT"},{"r":161,"s":48.2,"t":"VT"},{"r":161,"s":50.3,"t":"VT"},{"r":161,"s":51,"t":"VT"},{"r":161,"s":87.2,"t":"VT"},{"r":161,"s":118.3,"t":"VT"},{"r":161,"s":125.3,"t":"VT"},{"r":161,"s":137.3,"t":"VT"},{"r":161,"s":148.4,"t":"VT"},{"r":161,"s":160.2,"t":"VT"},{"r":161,"s":190,"t":"VT"},{"r":161,"s":202.5,"t":"VT"},{"r":161,"s":206.2,"t":"VT"},{"r":161,"s":233,"t":"VT"},
{"r":162,"s":37.2,"t":"VT"},{"r":162,"s":61.5,"t":"VT"},{"r":162,"s":68.5,"t":"VT"},{"r":162,"s":148.8,"t":"VT"},{"r":162,"s":153.4,"t":"VT"},{"r":162,"s":160.5,"t":"VT"},{"r":162,"s":164.8,"t":"VT"},{"r":162,"s":186.6,"t":"VT"},{"r":162,"s":198.3,"t":"VT"},{"r":162,"s":214.2,"t":"VT"},
{"r":163,"s":2,"t":"VT"},{"r":163,"s":6.4,"t":"VT"},{"r":163,"s":29,"t":"VT"},{"r":163,"s":76,"t":"VT"},{"r":163,"s":81.3,"t":"VT"},{"r":163,"s":129.6,"t":"VT"},{"r":163,"s":174.4,"t":"VT"},{"r":163,"s":182,"t":"VT"},{"r":163,"s":212.4,"t":"VT"},{"r":163,"s":230.6,"t":"VT"},{"r":163,"s":252,"t":"VT"},{"r":163,"s":263,"t":"VT"},{"r":163,"s":267.7,"t":"VT"},{"r":163,"s":271.6,"t":"VT"},{"r":163,"s":280.8,"t":"VT"},{"r":163,"s":296,"t":"VT"},
{"r":164,"s":27.5,"t":"VT"},{"r":164,"s":41,"t":"VT"},{"r":164,"s":124.8,"t":"VT"},{"r":164,"s":199.2,"t":"VT"},{"r":164,"s":226,"t":"VT"},{"r":164,"s":233,"t":"VT"},{"r":164,"s":292,"t":"VT"},
{"r":165,"s":8.4,"t":"VT"},{"r":165,"s":23.2,"t":"VT"},{"r":165,"s":46.2,"t":"VT"},{"r":165,"s":50,"t":"VT"},{"r":165,"s":62.7,"t":"VT"},{"r":165,"s":71,"t":"VT"},{"r":165,"s":77.7,"t":"VT"},{"r":165,"s":94.4,"t":"VT"},{"r":165,"s":102,"t":"VT"},{"r":165,"s":148.6,"t":"VT"},{"r":165,"s":154.7,"t":"VT"},{"r":165,"s":182.5,"t":"VT"},{"r":165,"s":208.7,"t":"VT"},{"r":165,"s":245.7,"t":"VT"},{"r":165,"s":255.7,"t":"VT"},{"r":165,"s":261,"t":"VT"},{"r":165,"s":294,"t":"VT"},
{"r":166,"s":-0.5,"t":"VT"},{"r":166,"s":36.7,"t":"VT"},{"r":166,"s":44.3,"t":"VT"},{"r":166,"s":49.2,"t":"VT"},{"r":166,"s":56,"t":"VT"},{"r":166,"s":78.3,"t":"VT"},{"r":166,"s":122.3,"t":"VT"},{"r":166,"s":198.8,"t":"VT"},{"r":166,"s":231.6,"t":"VT"},{"r":166,"s":233.2,"t":"VT"},{"r":166,"s":249,"t":"VT"},
{"r":167,"s":19.8,"t":"VT"},{"r":167,"s":62,"t":"VT"},{"r":167,"s":83,"t":"VT"},{"r":167,"s":88.7,"t":"VT"},{"r":167,"s":134.5,"t":"VT"},{"r":167,"s":144.5,"t":"VT"},{"r":167,"s":157.3,"t":"VT"},{"r":167,"s":172.6,"t":"VT"},{"r":167,"s":177,"t":"VT"},{"r":167,"s":231.4,"t":"VT"},{"r":167,"s":259.2,"t":"VT"},{"r":167,"s":263.8,"t":"VT"},{"r":167,"s":276.2,"t":"VT"},{"r":167,"s":283.8,"t":"VT"},
{"r":168,"s":3,"t":"VT"},{"r":168,"s":7.5,"t":"VT"},{"r":168,"s":26.6,"t":"VT"},{"r":168,"s":29,"t":"VT"},{"r":168,"s":82.3,"t":"VT"},{"r":168,"s":117.2,"t":"VT"},{"r":168,"s":133,"t":"VT"},{"r":168,"s":137.2,"t":"VT"},{"r":168,"s":283.3,"t":"LP"},
{"r":149,"s":58.7,"t":"TI"},{"r":150,"s":58.7,"t":"TI"},{"r":151,"s":58.7,"t":"TI"},{"r":152,"s":58.7,"t":"TI"},{"r":153,"s":58.7,"t":"TI"},{"r":154,"s":58.7,"t":"TI"},{"r":155,"s":58.7,"t":"TI"},{"r":156,"s":58.7,"t":"TI"},{"r":157,"s":58.7,"t":"TI"},{"r":158,"s":58.9,"t":"TI"},{"r":159,"s":58.9,"t":"TI"},{"r":160,"s":58.9,"t":"TI"},{"r":161,"s":58.7,"t":"TI"},{"r":162,"s":58.7,"t":"TI"},{"r":163,"s":58.7,"t":"TI"},{"r":164,"s":58.7,"t":"TI"},{"r":165,"s":58.9,"t":"TI"},{"r":166,"s":58.9,"t":"TI"},{"r":167,"s":58.7,"t":"TI"},{"r":168,"s":58.7,"t":"TI"},{"r":169,"s":58.7,"t":"TI"},{"r":170,"s":58.7,"t":"TI"},{"r":171,"s":58.7,"t":"TI"},{"r":172,"s":58.7,"t":"TI"},{"r":173,"s":58.7,"t":"TI"},{"r":174,"s":58.7,"t":"TI"},{"r":175,"s":58.7,"t":"TI"},{"r":176,"s":58.7,"t":"TI"},{"r":177,"s":58.7,"t":"TI"},
{"r":180,"s":119,"t":"TI"},
{"r":181,"s":58.7,"t":"TI"},{"r":182,"s":58.7,"t":"TI"},{"r":183,"s":58.7,"t":"TI"},{"r":184,"s":58.7,"t":"TI"},{"r":185,"s":58.7,"t":"TI"},{"r":186,"s":58.7,"t":"TI"},{"r":187,"s":58.7,"t":"TI"},{"r":188,"s":58.7,"t":"TI"},{"r":189,"s":58.7,"t":"TI"},
{"r":190,"s":68,"t":"LP"},{"r":190,"s":79,"t":"LP"},{"r":190,"s":96,"t":"TR"},{"r":191,"s":47,"t":"LP"},
{"r":194,"s":32,"t":"VT"},{"r":196,"s":86,"t":"VT"},{"r":196,"s":116,"t":"VT"},{"r":196,"s":133,"t":"VT"},{"r":196,"s":138,"t":"VT"},{"r":196,"s":229,"t":"VT"},
{"r":193,"s":179,"t":"TI"},{"r":194,"s":179,"t":"TI"},
{"r":191,"s":238.7,"t":"TI"},{"r":192,"s":238.7,"t":"TI"},{"r":195,"s":238.7,"t":"TI"},{"r":196,"s":238.7,"t":"TI"},{"r":197,"s":238.7,"t":"TI"},{"r":198,"s":238.7,"t":"TI"},{"r":199,"s":238.7,"t":"TI"},{"r":200,"s":238.7,"t":"TI"},{"r":201,"s":238.7,"t":"TI"},{"r":202,"s":238.7,"t":"TI"},{"r":203,"s":238.7,"t":"TI"},{"r":204,"s":238.7,"t":"TI"},{"r":205,"s":238.7,"t":"TI"},{"r":206,"s":238.7,"t":"TI"},{"r":207,"s":238.7,"t":"TI"},{"r":208,"s":238.7,"t":"TI"},{"r":209,"s":238.7,"t":"TI"},{"r":210,"s":238.7,"t":"TI"},{"r":211,"s":238.7,"t":"TI"},{"r":212,"s":238.5,"t":"TI"},{"r":213,"s":238.1,"t":"TI"},{"r":214,"s":238.5,"t":"TI"},{"r":215,"s":238.5,"t":"TI"},{"r":216,"s":238.8,"t":"TI"},{"r":217,"s":238.8,"t":"TI"},{"r":218,"s":238.8,"t":"TI"},{"r":219,"s":238.8,"t":"TI"},
{"r":203,"s":262,"t":"LP"},{"r":204,"s":193,"t":"LP"},{"r":205,"s":92,"t":"AV"},{"r":205,"s":116,"t":"LP"},{"r":207,"s":73,"t":"TR"},{"r":207,"s":144,"t":"LP"},{"r":208,"s":202,"t":"LP"},
{"r":213,"s":198.6,"t":"AV"},
{"r":214,"s":68,"t":"VT"},{"r":214,"s":83,"t":"VT"},{"r":214,"s":85.4,"t":"VT"},{"r":214,"s":93,"t":"VT"},{"r":214,"s":98.4,"t":"VT"},{"r":214,"s":117,"t":"VT"},{"r":214,"s":126,"t":"IC"},{"r":214,"s":151.6,"t":"VT"},{"r":214,"s":153,"t":"VT"},{"r":214,"s":188.4,"t":"VT"},{"r":214,"s":196.8,"t":"VT"},{"r":214,"s":279,"t":"VT"},{"r":214,"s":284.2,"t":"VT"},{"r":214,"s":288.8,"t":"VT"},
{"r":215,"s":11,"t":"VT"},{"r":215,"s":15.5,"t":"VT"},{"r":215,"s":22.8,"t":"VT"},{"r":215,"s":29,"t":"VT"},{"r":215,"s":32.8,"t":"VT"},{"r":215,"s":33.7,"t":"VT"},{"r":215,"s":36,"t":"LP"},{"r":215,"s":50.3,"t":"VT"},{"r":215,"s":72.3,"t":"VT"},{"r":215,"s":88.8,"t":"VT"},{"r":215,"s":97,"t":"VT"},{"r":215,"s":104,"t":"VT"},{"r":215,"s":109.3,"t":"VT"},{"r":215,"s":121.4,"t":"VT"},{"r":215,"s":154,"t":"VT"},{"r":215,"s":163.6,"t":"VT"},{"r":215,"s":207,"t":"IC"},{"r":215,"s":225.7,"t":"VT"},{"r":215,"s":257,"t":"IC"},{"r":215,"s":267,"t":"VT"},
{"r":216,"s":4,"t":"VT"},{"r":216,"s":18,"t":"VT"},{"r":216,"s":50.5,"t":"VT"},{"r":216,"s":67.2,"t":"VT"},{"r":216,"s":269.6,"t":"VT"},{"r":216,"s":282.4,"t":"VT"},
{"r":217,"s":40.3,"t":"VT"},{"r":217,"s":183.3,"t":"VT"},
{"r":218,"s":125,"t":"VT"},{"r":218,"s":201.5,"t":"VT"},{"r":218,"s":226.3,"t":"VT"},{"r":218,"s":264.7,"t":"VT"},
{"r":219,"s":141,"t":"VT"},{"r":219,"s":142.7,"t":"VT"},{"r":219,"s":153.4,"t":"VT"},{"r":219,"s":169.3,"t":"VT"},{"r":219,"s":191.6,"t":"VT"},{"r":219,"s":208,"t":"VT"},
{"r":220,"s":53.4,"t":"VT"},{"r":220,"s":95,"t":"VT"},{"r":220,"s":111,"t":"VT"},{"r":220,"s":117.3,"t":"VT"},{"r":220,"s":121,"t":"VT"},{"r":220,"s":134.6,"t":"VT"},{"r":220,"s":159.8,"t":"VT"},{"r":220,"s":218.7,"t":"VT"},{"r":220,"s":239.6,"t":"VT"},{"r":220,"s":267.7,"t":"VT"},{"r":220,"s":269.3,"t":"VT"},{"r":220,"s":274,"t":"VT"},
{"r":221,"s":-1.4,"t":"TI"},{"r":221,"s":28.8,"t":"VT"},{"r":221,"s":33,"t":"VT"},{"r":221,"s":101.5,"t":"VT"},{"r":221,"s":105.7,"t":"VT"},{"r":221,"s":210.9,"t":"VT"},{"r":221,"s":238.7,"t":"TI"},{"r":221,"s":285.7,"t":"VT"},{"r":221,"s":287.6,"t":"VT"},
{"r":222,"s":9,"t":"VT"},{"r":222,"s":12.8,"t":"VT"},{"r":222,"s":81.5,"t":"VT"},{"r":222,"s":83.4,"t":"VT"},{"r":222,"s":118.8,"t":"TI"},{"r":222,"s":172,"t":"VT"},{"r":222,"s":182.4,"t":"VT"},{"r":222,"s":185.2,"t":"VT"},{"r":222,"s":216.8,"t":"VT"},{"r":222,"s":237.5,"t":"VT"},{"r":222,"s":239,"t":"VT"},{"r":222,"s":265.3,"t":"VT"},{"r":222,"s":268.4,"t":"VT"},{"r":222,"s":276,"t":"VT"},{"r":222,"s":287,"t":"VT"},{"r":222,"s":291,"t":"VT"},
{"r":223,"s":6,"t":"VT"},{"r":223,"s":19.4,"t":"VT"},{"r":223,"s":37,"t":"VT"},{"r":223,"s":42,"t":"VT"},{"r":223,"s":62.3,"t":"VT"},{"r":223,"s":96.2,"t":"VT"},{"r":223,"s":128.7,"t":"VT"},{"r":223,"s":178.7,"t":"TI"},{"r":223,"s":187,"t":"VT"},{"r":223,"s":295.7,"t":"VT"},
{"r":224,"s":1.7,"t":"VT"},{"r":224,"s":55.8,"t":"VT"},{"r":224,"s":84.4,"t":"VT"},{"r":224,"s":110.6,"t":"VT"},{"r":224,"s":112.7,"t":"VT"},{"r":224,"s":171.5,"t":"VT"},{"r":224,"s":203.4,"t":"VT"},{"r":224,"s":238.7,"t":"TI"},{"r":224,"s":246,"t":"VT"},{"r":224,"s":248.6,"t":"VT"},
{"r":225,"s":2,"t":"VT"},{"r":225,"s":12.5,"t":"VT"},{"r":225,"s":49.5,"t":"VT"},{"r":225,"s":50,"t":"VT"},{"r":225,"s":112,"t":"VT"},{"r":225,"s":125.8,"t":"VT"},{"r":225,"s":127.2,"t":"VT"},{"r":225,"s":178.7,"t":"TI"},{"r":225,"s":194,"t":"VT"},{"r":225,"s":205.3,"t":"VT"},
{"r":226,"s":9.2,"t":"VT"},{"r":226,"s":23.7,"t":"VT"},{"r":226,"s":26.4,"t":"VT"},{"r":226,"s":33.8,"t":"VT"},{"r":226,"s":51.6,"t":"VT"},{"r":226,"s":60.2,"t":"VT"},{"r":226,"s":66.8,"t":"VT"},{"r":226,"s":70.3,"t":"VT"},{"r":226,"s":74.7,"t":"VT"},{"r":226,"s":87.6,"t":"VT"},{"r":226,"s":91.7,"t":"VT"},{"r":226,"s":113.4,"t":"VT"},{"r":226,"s":120,"t":"VT"},{"r":226,"s":159.8,"t":"VT"},{"r":226,"s":165.3,"t":"VT"},{"r":226,"s":171,"t":"VT"},{"r":226,"s":174.4,"t":"VT"},{"r":226,"s":178.6,"t":"VT"},{"r":226,"s":196,"t":"VT"},{"r":226,"s":233,"t":"VT"},{"r":226,"s":238.7,"t":"TI"},{"r":226,"s":241.6,"t":"VT"},{"r":226,"s":250.3,"t":"VT"},{"r":226,"s":272,"t":"VT"},{"r":226,"s":275.5,"t":"VT"},
{"r":227,"s":17,"t":"VT"},{"r":227,"s":18.3,"t":"VT"},{"r":227,"s":31.8,"t":"VT"},{"r":227,"s":87.7,"t":"VT"},{"r":227,"s":125.7,"t":"VT"},{"r":227,"s":130,"t":"VT"},{"r":227,"s":131,"t":"VT"},{"r":227,"s":160,"t":"VT"},{"r":227,"s":178.7,"t":"TI"},{"r":227,"s":183.4,"t":"VT"},{"r":227,"s":186,"t":"VT"},{"r":227,"s":195.3,"t":"VT"},{"r":227,"s":217.7,"t":"VT"},{"r":227,"s":223,"t":"VT"},{"r":227,"s":256.5,"t":"VT"},{"r":227,"s":272.6,"t":"VT"},{"r":227,"s":279,"t":"VT"},{"r":227,"s":281,"t":"VT"},
{"r":228,"s":25,"t":"VT"},{"r":228,"s":33.4,"t":"VT"},{"r":228,"s":102.1,"t":"VT"},{"r":228,"s":138.8,"t":"VT"},{"r":228,"s":207,"t":"VT"},{"r":228,"s":228.8,"t":"VT"},{"r":228,"s":232,"t":"VT"},{"r":228,"s":242.7,"t":"VT"},{"r":228,"s":252.6,"t":"VT"},{"r":228,"s":238.7,"t":"TI"},
{"r":229,"s":238.7,"t":"TI"},{"r":230,"s":238.7,"t":"TI"},{"r":231,"s":238.7,"t":"TI"},{"r":232,"s":238.7,"t":"TI"},{"r":233,"s":238.7,"t":"TI"},{"r":234,"s":238.7,"t":"TI"},{"r":235,"s":238.7,"t":"TI"},{"r":236,"s":238.7,"t":"TI"},{"r":237,"s":238.7,"t":"TI"},{"r":238,"s":238.7,"t":"TI"},{"r":239,"s":238.7,"t":"TI"},{"r":240,"s":238.7,"t":"TI"},{"r":241,"s":238.7,"t":"TI"},{"r":242,"s":238.7,"t":"TI"},{"r":243,"s":238.7,"t":"TI"},{"r":244,"s":238.7,"t":"TI"},{"r":245,"s":238.7,"t":"TI"},{"r":246,"s":238.7,"t":"TI"},{"r":247,"s":238.7,"t":"TI"},{"r":248,"s":238.7,"t":"TI"},{"r":249,"s":238.7,"t":"TI"},{"r":250,"s":238.7,"t":"TI"},{"r":251,"s":238.7,"t":"TI"},{"r":252,"s":238.7,"t":"TI"},{"r":253,"s":238.7,"t":"TI"},{"r":254,"s":238.7,"t":"TI"},{"r":255,"s":238.7,"t":"TI"},{"r":256,"s":238.7,"t":"TI"},
{"r":230,"s":150,"t":"VT"},{"r":230,"s":186.5,"t":"VT"},{"r":230,"s":202.6,"t":"VT"},{"r":233,"s":153.6,"t":"VT"},{"r":233,"s":161.3,"t":"VT"},{"r":233,"s":186.4,"t":"VT"},{"r":233,"s":196.1,"t":"VT"},{"r":237,"s":252.5,"t":"VT"},{"r":238,"s":208.7,"t":"LP"},{"r":238,"s":150,"t":"VT"},{"r":239,"s":164.5,"t":"IC"},{"r":239,"s":201.4,"t":"VT"},
{"r":243,"s":246,"t":"VT"},{"r":243,"s":250.9,"t":"VT"},{"r":243,"s":261.4,"t":"VT"},{"r":243,"s":275.2,"t":"VT"},{"r":244,"s":34,"t":"VT"},{"r":244,"s":45.8,"t":"VT"},{"r":244,"s":58,"t":"VT"},{"r":244,"s":220,"t":"VT"},
{"r":245,"s":191.7,"t":"VT"},{"r":245,"s":204.7,"t":"VT"},{"r":245,"s":209,"t":"VT"},{"r":245,"s":214.8,"t":"VT"},{"r":245,"s":227,"t":"VT"},{"r":247,"s":255.7,"t":"VT"},{"r":247,"s":265,"t":"VT"},{"r":247,"s":272,"t":"VT"},
{"r":251,"s":49.8,"t":"VT"},{"r":251,"s":96.4,"t":"VT"},{"r":251,"s":106.6,"t":"VT"},{"r":251,"s":119.5,"t":"VT"},{"r":251,"s":178.3,"t":"TI"},{"r":252,"s":285.3,"t":"VT"},{"r":252,"s":290.2,"t":"VT"},{"r":253,"s":28.3,"t":"VT"},
{"r":255,"s":83.9,"t":"VT"},{"r":255,"s":109.8,"t":"VT"},{"r":255,"s":298.3,"t":"TI"},{"r":256,"s":54.7,"t":"LP"},{"r":256,"s":153.6,"t":"LP"},
{"r":257,"s":-0.4,"t":"LP"},{"r":257,"s":212,"t":"LP"},{"r":257,"s":237.9,"t":"LP"},{"r":257,"s":257.8,"t":"TR"},{"r":258,"s":257,"t":"LP"},{"r":258,"s":275.6,"t":"VT"},{"r":258,"s":217.2,"t":"TR"},{"r":258,"s":102,"t":"VT"},{"r":258,"s":115,"t":"VT"},
{"r":259,"s":48.2,"t":"LP"},{"r":259,"s":90,"t":"VT"},{"r":259,"s":95.2,"t":"LP"},{"r":260,"s":49.8,"t":"TR"},{"r":261,"s":278.4,"t":"VT"},{"r":262,"s":1.6,"t":"VT"},
{"r":263,"s":75.4,"t":"VT"},{"r":263,"s":101.7,"t":"VT"},{"r":263,"s":118.7,"t":"VT"},{"r":263,"s":126.8,"t":"VT"},{"r":263,"s":137,"t":"VT"},
{"r":261,"s":178.5,"t":"TI"},{"r":262,"s":178.5,"t":"TI"},{"r":263,"s":178.5,"t":"TI"},{"r":264,"s":178.5,"t":"TI"},{"r":265,"s":178.5,"t":"TI"},{"r":266,"s":178.5,"t":"TI"},{"r":267,"s":178.5,"t":"TI"},{"r":268,"s":178.5,"t":"TI"},{"r":269,"s":178.5,"t":"TI"},{"r":270,"s":178.5,"t":"TI"},{"r":271,"s":178.5,"t":"TI"},{"r":272,"s":178.5,"t":"TI"},{"r":273,"s":178.5,"t":"TI"},
{"r":266,"s":281,"t":"LP"},{"r":267,"s":17.4,"t":"LP"},{"r":267,"s":89,"t":"VT"},{"r":267,"s":103,"t":"VT"},{"r":267,"s":111,"t":"VT"},{"r":267,"s":139.4,"t":"VT"},{"r":267,"s":147.5,"t":"VT"},{"r":268,"s":99.7,"t":"VT"},{"r":268,"s":128.9,"t":"VT"},{"r":268,"s":68.9,"t":"VT"},
{"r":272,"s":180,"t":"LP"},{"r":272,"s":191,"t":"LP"},{"r":272,"s":218.4,"t":"LP"},{"r":274,"s":140.6,"t":"VT"},{"r":274,"s":152,"t":"VT"},{"r":274,"s":156.8,"t":"VT"},{"r":276,"s":195.7,"t":"VT"},
{"r":275,"s":238.7,"t":"TI"},{"r":276,"s":238.7,"t":"TI"},{"r":277,"s":238.7,"t":"TI"},{"r":278,"s":238.7,"t":"TI"},{"r":279,"s":238.7,"t":"TI"},{"r":280,"s":238.7,"t":"TI"},{"r":281,"s":238.7,"t":"TI"},{"r":282,"s":238.7,"t":"TI"},{"r":283,"s":238.7,"t":"TI"},{"r":284,"s":238.7,"t":"TI"},{"r":285,"s":238.7,"t":"TI"},{"r":286,"s":238.7,"t":"TI"},{"r":287,"s":238.7,"t":"TI"},
{"r":283,"s":104.5,"t":"VT"},{"r":283,"s":113.5,"t":"VT"},{"r":283,"s":130.5,"t":"VT"},{"r":283,"s":247.2,"t":"VT"},{"r":283,"s":258.2,"t":"VT"},{"r":283,"s":269.5,"t":"VT"},{"r":283,"s":281.3,"t":"VT"},
{"r":284,"s":23,"t":"VT"},{"r":284,"s":96.4,"t":"VT"},{"r":284,"s":123.6,"t":"VT"},{"r":284,"s":139.4,"t":"VT"},
{"r":285,"s":49,"t":"VT"},{"r":285,"s":69,"t":"VT"},{"r":285,"s":81.8,"t":"VT"},{"r":285,"s":96.4,"t":"VT"},{"r":286,"s":285.3,"t":"VT"},{"r":286,"s":288.2,"t":"VT"},{"r":287,"s":6,"t":"VT"},{"r":287,"s":-0.4,"t":"VT"}
]},
"layer": [
{"data": {"name": "cols"}, "mark": {"type": "rule", "color": "#FF4500", "strokeWidth": 1, "strokeDash": [5, 7.8333], "xOffset": -2.5},
 "encoding": {"x": {"field": "s", "type": "quantitative", "scale": {"domain": [0, 300], "nice": false, "zero": false}, "axis": null},
  "y": {"datum": -0.39, "type": "quantitative", "scale": {"domain": [0, 288], "reverse": true, "nice": false, "zero": false}, "axis": null}, "y2": {"datum": 287.05}}},
{"data": {"name": "cols"}, "mark": {"type": "rule", "color": "#FF4500", "strokeWidth": 1, "strokeDash": [5, 7.8333], "xOffset": 2.5},
 "encoding": {"x": {"field": "s", "type": "quantitative", "scale": {"domain": [0, 300], "nice": false, "zero": false}, "axis": null},
  "y": {"datum": -0.39, "type": "quantitative", "scale": {"domain": [0, 288], "reverse": true, "nice": false, "zero": false}, "axis": null}, "y2": {"datum": 287.05}}},
{"data": {"name": "cols"}, "mark": {"type": "rule", "color": "#FF4500", "strokeWidth": 6, "strokeDash": [1, 11.8333]},
 "encoding": {"x": {"field": "s", "type": "quantitative", "scale": {"domain": [0, 300], "nice": false, "zero": false}, "axis": null},
  "y": {"datum": -0.39, "type": "quantitative", "scale": {"domain": [0, 288], "reverse": true, "nice": false, "zero": false}, "axis": null}, "y2": {"datum": 287.05}}},
{"data": {"name": "half"}, "mark": {"type": "point", "shape": "M-1,0.9V-0.9H1V0.9", "filled": false, "stroke": "#FF0000", "strokeWidth": 1.5, "size": 81, "opacity": 1, "xOffset": 1.5, "yOffset": -4},
 "encoding": {"x": {"datum": 0, "type": "quantitative", "scale": {"domain": [0, 300], "nice": false, "zero": false}, "axis": null},
  "y": {"field": "r", "type": "quantitative", "scale": {"domain": [0, 288], "reverse": true, "nice": false, "zero": false}, "axis": null}}},
{"data": {"name": "hour"}, "mark": {"type": "point", "shape": "M-1,0.75V-0.75H1V0.75", "filled": false, "stroke": "#0000FF", "strokeWidth": 2, "size": 144, "opacity": 1, "xOffset": 2, "yOffset": -4.5},
 "encoding": {"x": {"datum": 0, "type": "quantitative", "scale": {"domain": [0, 300], "nice": false, "zero": false}, "axis": null},
  "y": {"field": "r", "type": "quantitative", "scale": {"domain": [0, 288], "reverse": true, "nice": false, "zero": false}, "axis": null}}},
{"data": {"name": "noon"}, "mark": {"type": "point", "shape": "M-1,0.75V-0.75H1V0.75", "filled": false, "stroke": "#008000", "strokeWidth": 2, "size": 144, "opacity": 1, "xOffset": 2, "yOffset": -4.5},
 "encoding": {"x": {"datum": 0, "type": "quantitative", "scale": {"domain": [0, 300], "nice": false, "zero": false}, "axis": null},
  "y": {"field": "r", "type": "quantitative", "scale": {"domain": [0, 288], "reverse": true, "nice": false, "zero": false}, "axis": null}}},
{"data": {"name": "day"}, "mark": {"type": "point", "shape": "M-1,0.5V-0.5H1V0.5", "filled": false, "stroke": "#8B0000", "strokeWidth": 2, "size": 441, "opacity": 1, "xOffset": 6.5, "yOffset": -5.3},
 "encoding": {"x": {"datum": 0, "type": "quantitative", "scale": {"domain": [0, 300], "nice": false, "zero": false}, "axis": null},
  "y": {"field": "r", "type": "quantitative", "scale": {"domain": [0, 288], "reverse": true, "nice": false, "zero": false}, "axis": null}}},
{"data": {"name": "hl"}, "mark": {"type": "text", "align": "left", "baseline": "middle", "dx": 20, "dy": -5.5, "font": "Liberation Serif", "fontSize": 14, "fontWeight": "bold", "color": "#0000FF"},
 "encoding": {"x": {"datum": 0, "type": "quantitative", "scale": {"domain": [0, 300], "nice": false, "zero": false}, "axis": null},
  "y": {"field": "r", "type": "quantitative", "scale": {"domain": [0, 288], "reverse": true, "nice": false, "zero": false}, "axis": null},
  "text": {"field": "lab", "type": "nominal"}}},
{"data": {"name": "vol"}, "mark": {"type": "point", "filled": true, "size": 95, "stroke": "#000000", "strokeWidth": 1},
 "encoding": {"x": {"field": "s", "type": "quantitative", "scale": {"domain": [0, 300], "nice": false, "zero": false}, "axis": null},
  "y": {"field": "r", "type": "quantitative", "scale": {"domain": [0, 288], "reverse": true, "nice": false, "zero": false}, "axis": null},
  "fill": {"field": "t", "type": "nominal",
   "scale": {"domain": ["VT","LP","BQ","HB","TR","TI","EX","SM","TO","AV","IC","CA","IF","SD"], "range": ["#FF0000","#FFFF00","#F2E2A6","#FF8000","#1E90FF","#00FFFF","#800080","#E8B0E8","#FFA500","#2E8B57","#D8D8D8","#4A2C4A","#FF00FF","#32CD32"]},
   "legend": {"title": null, "orient": "none", "legendX": 27.65, "legendY": 3914, "direction": "horizontal", "columns": 14, "gridAlign": "all", "columnPadding": 13.9, "padding": 0, "symbolType": "circle", "symbolSize": 110, "symbolStrokeColor": "#000000", "symbolStrokeWidth": 1, "symbolOpacity": 1, "labelExpr": "''", "labelOffset": 0, "labelFontSize": 1}},
  "shape": {"field": "t", "type": "nominal",
   "scale": {"domain": ["VT","LP","BQ","HB","TR","TI","EX","SM","TO","AV","IC","CA","IF","SD","NA"], "range": ["circle","circle","circle","circle","circle","circle","circle","circle","circle","circle","circle","circle","circle","circle","circle"]},
   "legend": {"title": null, "values": ["VT","LP","BQ","HB","TR","TI","EX","SM","TO","AV","IC","CA","IF","SD"], "orient": "none", "legendX": 23.4, "legendY": 3935, "direction": "horizontal", "columns": 14, "gridAlign": "all", "columnPadding": 2.9, "padding": 0, "symbolType": "circle", "symbolSize": 110, "symbolOpacity": 0, "symbolStrokeWidth": 0, "labelFont": "Liberation Serif", "labelFontSize": 15, "labelFontWeight": "bold", "labelColor": "#000000", "labelAlign": "center", "labelOffset": -5.25}},
  "opacity": {"field": "t", "type": "nominal",
   "scale": {"domain": ["VT","LP","BQ","HB","TR","TI","EX","SM","TO","AV","IC","CA","IF","SD","NA","NB"], "range": [1,1,1,1,1,1,1,1,1,1,1,1,1,1,1,1]},
   "legend": {"title": "Sismos Volcánicos", "values": ["VT"], "orient": "none", "legendX": 50, "legendY": 3896, "padding": 0, "symbolType": "circle", "symbolSize": 4, "symbolOpacity": 0, "symbolStrokeWidth": 0, "labelExpr": "''", "labelFontSize": 1, "titleFont": "Liberation Serif", "titleFontSize": 15, "titleFontWeight": "bold", "titleColor": "#000000", "titlePadding": 5, "titleAnchor": "start"}}}},
{"data": {"name": "nov"}, "mark": {"type": "point", "filled": true, "size": 95, "stroke": "#000000", "strokeWidth": 1},
 "encoding": {"x": {"field": "s", "type": "quantitative", "scale": {"domain": [0, 300], "nice": false, "zero": false}, "axis": null},
  "y": {"field": "r", "type": "quantitative", "scale": {"domain": [0, 288], "reverse": true, "nice": false, "zero": false}, "axis": null},
  "fill": {"field": "t", "type": "nominal",
   "scale": {"domain": ["ZZ","CN","RY","TL","RE","DS"], "range": ["#8A2BE2","#4A3858","#5A2A50","#0000FF","#666666","#D2B48C"]},
   "legend": {"title": null, "orient": "none", "legendX": 1708.25, "legendY": 3914, "direction": "horizontal", "columns": 6, "gridAlign": "all", "columnPadding": 13.9, "padding": 0, "symbolType": "circle", "symbolSize": 110, "symbolStrokeColor": "#000000", "symbolStrokeWidth": 1, "symbolOpacity": 1, "labelExpr": "''", "labelOffset": 0, "labelFontSize": 1}},
  "shape": {"field": "t", "type": "nominal",
   "scale": {"domain": ["ZZ","CN","RY","TL","RE","DS","NA"], "range": ["circle","circle","circle","circle","circle","circle","circle"]},
   "legend": {"title": null, "values": ["ZZ","CN","RY","TL","RE","DS"], "orient": "none", "legendX": 1704, "legendY": 3935, "direction": "horizontal", "columns": 6, "gridAlign": "all", "columnPadding": 3.7, "padding": 0, "symbolType": "circle", "symbolSize": 110, "symbolOpacity": 0, "symbolStrokeWidth": 0, "labelFont": "Liberation Serif", "labelFontSize": 15, "labelFontWeight": "bold", "labelColor": "#000000", "labelAlign": "center", "labelOffset": -5.25}},
  "opacity": {"field": "t", "type": "nominal",
   "scale": {"domain": ["ZZ","CN","RY","TL","RE","DS","NA","NB"], "range": [1,1,1,1,1,1,1,1]},
   "legend": {"title": "Sismos No Volcánicos", "values": ["ZZ"], "orient": "none", "legendX": 1720, "legendY": 3896, "padding": 0, "symbolType": "circle", "symbolSize": 4, "symbolOpacity": 0, "symbolStrokeWidth": 0, "labelExpr": "''", "labelFontSize": 1, "titleFont": "Liberation Serif", "titleFontSize": 15, "titleFontWeight": "bold", "titleColor": "#000000", "titlePadding": 5, "titleAnchor": "start"}}}}
],
"resolve": {"scale": {"fill": "independent", "shape": "independent", "opacity": "independent"}, "legend": {"fill": "independent", "shape": "independent", "opacity": "independent"}}
}
